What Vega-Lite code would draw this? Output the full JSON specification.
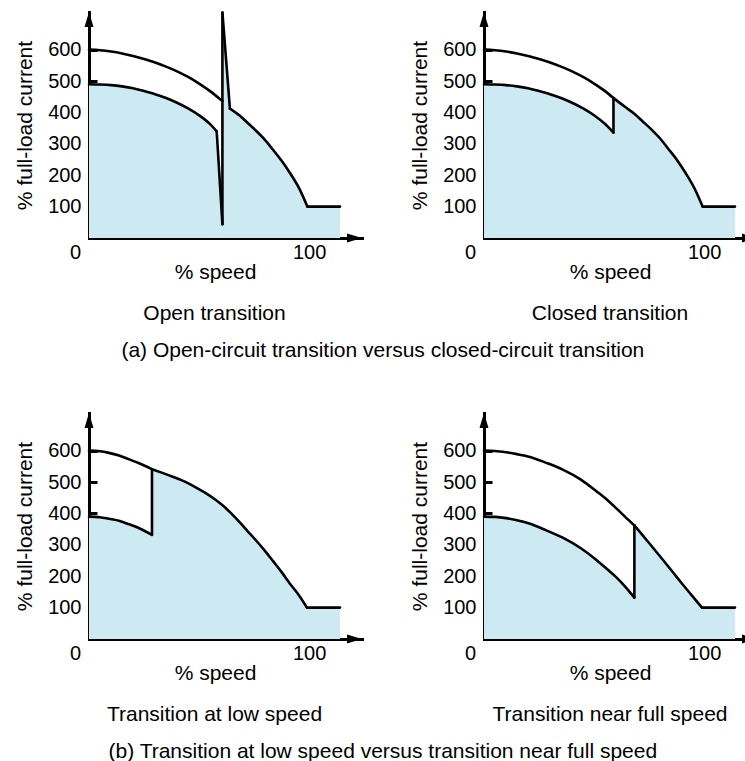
{
  "$schema": "https://vega.github.io/schema/vega-lite/v6.json",
  "background": "white",
  "padding": {"left": 14, "top": 7, "right": 0, "bottom": 0},
  "config": {
    "view": {"stroke": null},
    "font": "Liberation Sans",
    "axis": {
      "labelFont": "Liberation Sans", "labelFontSize": 20, "labelColor": "black",
      "titleFont": "Liberation Sans", "titleFontSize": 21, "titleFontWeight": "normal", "titleColor": "black",
      "domainColor": "black", "domainWidth": 3, "domainCap": "square",
      "tickColor": "black", "tickWidth": 3, "tickSize": -8,
      "grid": false, "labelFlush": false, "labelOverlap": false
    },
    "axisX": {"labelPadding": 12, "titlePadding": -1},
    "axisY": {"labelPadding": 16, "titlePadding": 12},
    "title": {"font": "Liberation Sans", "fontSize": 21, "fontWeight": "normal", "color": "black"}
  },
  "datasets": {
    "prof": [
      {"p": "A", "x": 0, "y": 490}, {"p": "A", "x": 5, "y": 489}, {"p": "A", "x": 10, "y": 487}, {"p": "A", "x": 15, "y": 483},
      {"p": "A", "x": 20, "y": 477}, {"p": "A", "x": 25, "y": 468}, {"p": "A", "x": 30, "y": 458}, {"p": "A", "x": 35, "y": 446},
      {"p": "A", "x": 40, "y": 431}, {"p": "A", "x": 45, "y": 413}, {"p": "A", "x": 50, "y": 391}, {"p": "A", "x": 55, "y": 363},
      {"p": "A", "x": 58, "y": 340}, {"p": "A", "x": 60.6, "y": 44}, {"p": "A", "x": 60.6, "y": 718}, {"p": "A", "x": 64, "y": 412},
      {"p": "A", "x": 68.4, "y": 390}, {"p": "A", "x": 72, "y": 367}, {"p": "A", "x": 76, "y": 341}, {"p": "A", "x": 80, "y": 312},
      {"p": "A", "x": 83.6, "y": 281}, {"p": "A", "x": 87.5, "y": 246}, {"p": "A", "x": 91.2, "y": 208}, {"p": "A", "x": 95.7, "y": 155},
      {"p": "A", "x": 99.2, "y": 100}, {"p": "A", "x": 114, "y": 100},
      {"p": "B", "x": 0, "y": 490}, {"p": "B", "x": 5, "y": 489}, {"p": "B", "x": 10, "y": 487}, {"p": "B", "x": 15, "y": 483},
      {"p": "B", "x": 20, "y": 477}, {"p": "B", "x": 25, "y": 468}, {"p": "B", "x": 30, "y": 458}, {"p": "B", "x": 35, "y": 446},
      {"p": "B", "x": 40, "y": 431}, {"p": "B", "x": 45, "y": 413}, {"p": "B", "x": 50, "y": 391}, {"p": "B", "x": 55, "y": 363},
      {"p": "B", "x": 58.8, "y": 336}, {"p": "B", "x": 58.8, "y": 446}, {"p": "B", "x": 64, "y": 418}, {"p": "B", "x": 68.4, "y": 395},
      {"p": "B", "x": 72, "y": 372}, {"p": "B", "x": 76, "y": 346}, {"p": "B", "x": 80, "y": 317}, {"p": "B", "x": 83.6, "y": 285},
      {"p": "B", "x": 87.5, "y": 250}, {"p": "B", "x": 91.2, "y": 211}, {"p": "B", "x": 95.7, "y": 157}, {"p": "B", "x": 99.3, "y": 100},
      {"p": "B", "x": 114, "y": 100},
      {"p": "C", "x": 0, "y": 390}, {"p": "C", "x": 5, "y": 388}, {"p": "C", "x": 9, "y": 383}, {"p": "C", "x": 14, "y": 376},
      {"p": "C", "x": 18, "y": 366}, {"p": "C", "x": 23, "y": 352}, {"p": "C", "x": 28.6, "y": 332}, {"p": "C", "x": 28.6, "y": 541},
      {"p": "C", "x": 33, "y": 530}, {"p": "C", "x": 38, "y": 517}, {"p": "C", "x": 42, "y": 506}, {"p": "C", "x": 45.6, "y": 494},
      {"p": "C", "x": 49, "y": 481}, {"p": "C", "x": 53.2, "y": 464}, {"p": "C", "x": 57, "y": 446}, {"p": "C", "x": 60.8, "y": 425},
      {"p": "C", "x": 64.6, "y": 400}, {"p": "C", "x": 68.4, "y": 372}, {"p": "C", "x": 72, "y": 344}, {"p": "C", "x": 76, "y": 313},
      {"p": "C", "x": 80, "y": 280}, {"p": "C", "x": 83.6, "y": 248}, {"p": "C", "x": 87.5, "y": 213}, {"p": "C", "x": 91.2, "y": 177},
      {"p": "C", "x": 95.5, "y": 138}, {"p": "C", "x": 99, "y": 100}, {"p": "C", "x": 114, "y": 100},
      {"p": "D", "x": 0, "y": 390}, {"p": "D", "x": 5, "y": 389}, {"p": "D", "x": 10, "y": 385}, {"p": "D", "x": 15, "y": 378},
      {"p": "D", "x": 20.9, "y": 367}, {"p": "D", "x": 28, "y": 347}, {"p": "D", "x": 36, "y": 322}, {"p": "D", "x": 44, "y": 289},
      {"p": "D", "x": 51.2, "y": 251}, {"p": "D", "x": 56, "y": 222}, {"p": "D", "x": 60, "y": 197}, {"p": "D", "x": 64, "y": 168},
      {"p": "D", "x": 68.3, "y": 132}, {"p": "D", "x": 68.3, "y": 362}, {"p": "D", "x": 72, "y": 331}, {"p": "D", "x": 76, "y": 297},
      {"p": "D", "x": 81.5, "y": 250}, {"p": "D", "x": 86, "y": 211}, {"p": "D", "x": 90, "y": 176}, {"p": "D", "x": 94, "y": 142},
      {"p": "D", "x": 99, "y": 100}, {"p": "D", "x": 114, "y": 100}
    ],
    "segs": [
      {"p": "A", "s": 1, "i": 0, "x": 0, "y": 490}, {"p": "A", "s": 1, "i": 1, "x": 5, "y": 489}, {"p": "A", "s": 1, "i": 2, "x": 10, "y": 487},
      {"p": "A", "s": 1, "i": 3, "x": 15, "y": 483}, {"p": "A", "s": 1, "i": 4, "x": 20, "y": 477}, {"p": "A", "s": 1, "i": 5, "x": 25, "y": 468},
      {"p": "A", "s": 1, "i": 6, "x": 30, "y": 458}, {"p": "A", "s": 1, "i": 7, "x": 35, "y": 446}, {"p": "A", "s": 1, "i": 8, "x": 40, "y": 431},
      {"p": "A", "s": 1, "i": 9, "x": 45, "y": 413}, {"p": "A", "s": 1, "i": 10, "x": 50, "y": 391}, {"p": "A", "s": 1, "i": 11, "x": 55, "y": 363},
      {"p": "A", "s": 1, "i": 12, "x": 58, "y": 340},
      {"p": "A", "s": 2, "i": 0, "x": 58, "y": 340}, {"p": "A", "s": 2, "i": 1, "x": 60.6, "y": 44},
      {"p": "A", "s": 3, "i": 0, "x": 60.6, "y": 44}, {"p": "A", "s": 3, "i": 1, "x": 60.6, "y": 718},
      {"p": "A", "s": 4, "i": 0, "x": 60.6, "y": 718}, {"p": "A", "s": 4, "i": 1, "x": 64, "y": 412},
      {"p": "A", "s": 5, "i": 0, "x": 64, "y": 412}, {"p": "A", "s": 5, "i": 1, "x": 68.4, "y": 390}, {"p": "A", "s": 5, "i": 2, "x": 72, "y": 367},
      {"p": "A", "s": 5, "i": 3, "x": 76, "y": 341}, {"p": "A", "s": 5, "i": 4, "x": 80, "y": 312}, {"p": "A", "s": 5, "i": 5, "x": 83.6, "y": 281},
      {"p": "A", "s": 5, "i": 6, "x": 87.5, "y": 246}, {"p": "A", "s": 5, "i": 7, "x": 91.2, "y": 208}, {"p": "A", "s": 5, "i": 8, "x": 95.7, "y": 155},
      {"p": "A", "s": 5, "i": 9, "x": 99.2, "y": 100},
      {"p": "A", "s": 6, "i": 0, "x": 99.2, "y": 100}, {"p": "A", "s": 6, "i": 1, "x": 114, "y": 100},

      {"p": "B", "s": 1, "i": 0, "x": 0, "y": 490}, {"p": "B", "s": 1, "i": 1, "x": 5, "y": 489}, {"p": "B", "s": 1, "i": 2, "x": 10, "y": 487},
      {"p": "B", "s": 1, "i": 3, "x": 15, "y": 483}, {"p": "B", "s": 1, "i": 4, "x": 20, "y": 477}, {"p": "B", "s": 1, "i": 5, "x": 25, "y": 468},
      {"p": "B", "s": 1, "i": 6, "x": 30, "y": 458}, {"p": "B", "s": 1, "i": 7, "x": 35, "y": 446}, {"p": "B", "s": 1, "i": 8, "x": 40, "y": 431},
      {"p": "B", "s": 1, "i": 9, "x": 45, "y": 413}, {"p": "B", "s": 1, "i": 10, "x": 50, "y": 391}, {"p": "B", "s": 1, "i": 11, "x": 55, "y": 363},
      {"p": "B", "s": 1, "i": 12, "x": 58.8, "y": 336},
      {"p": "B", "s": 2, "i": 0, "x": 58.8, "y": 336}, {"p": "B", "s": 2, "i": 1, "x": 58.8, "y": 446},
      {"p": "B", "s": 3, "i": 0, "x": 58.8, "y": 446}, {"p": "B", "s": 3, "i": 1, "x": 64, "y": 418}, {"p": "B", "s": 3, "i": 2, "x": 68.4, "y": 395},
      {"p": "B", "s": 3, "i": 3, "x": 72, "y": 372}, {"p": "B", "s": 3, "i": 4, "x": 76, "y": 346}, {"p": "B", "s": 3, "i": 5, "x": 80, "y": 317},
      {"p": "B", "s": 3, "i": 6, "x": 83.6, "y": 285}, {"p": "B", "s": 3, "i": 7, "x": 87.5, "y": 250}, {"p": "B", "s": 3, "i": 8, "x": 91.2, "y": 211},
      {"p": "B", "s": 3, "i": 9, "x": 95.7, "y": 157}, {"p": "B", "s": 3, "i": 10, "x": 99.3, "y": 100},
      {"p": "B", "s": 4, "i": 0, "x": 99.3, "y": 100}, {"p": "B", "s": 4, "i": 1, "x": 114, "y": 100},

      {"p": "C", "s": 1, "i": 0, "x": 0, "y": 390}, {"p": "C", "s": 1, "i": 1, "x": 5, "y": 388}, {"p": "C", "s": 1, "i": 2, "x": 9, "y": 383},
      {"p": "C", "s": 1, "i": 3, "x": 14, "y": 376}, {"p": "C", "s": 1, "i": 4, "x": 18, "y": 366}, {"p": "C", "s": 1, "i": 5, "x": 23, "y": 352},
      {"p": "C", "s": 1, "i": 6, "x": 28.6, "y": 332},
      {"p": "C", "s": 2, "i": 0, "x": 28.6, "y": 332}, {"p": "C", "s": 2, "i": 1, "x": 28.6, "y": 541},
      {"p": "C", "s": 3, "i": 0, "x": 28.6, "y": 541}, {"p": "C", "s": 3, "i": 1, "x": 33, "y": 530}, {"p": "C", "s": 3, "i": 2, "x": 38, "y": 517},
      {"p": "C", "s": 3, "i": 3, "x": 42, "y": 506}, {"p": "C", "s": 3, "i": 4, "x": 45.6, "y": 494}, {"p": "C", "s": 3, "i": 5, "x": 49, "y": 481},
      {"p": "C", "s": 3, "i": 6, "x": 53.2, "y": 464}, {"p": "C", "s": 3, "i": 7, "x": 57, "y": 446}, {"p": "C", "s": 3, "i": 8, "x": 60.8, "y": 425},
      {"p": "C", "s": 3, "i": 9, "x": 64.6, "y": 400}, {"p": "C", "s": 3, "i": 10, "x": 68.4, "y": 372}, {"p": "C", "s": 3, "i": 11, "x": 72, "y": 344},
      {"p": "C", "s": 3, "i": 12, "x": 76, "y": 313}, {"p": "C", "s": 3, "i": 13, "x": 80, "y": 280}, {"p": "C", "s": 3, "i": 14, "x": 83.6, "y": 248},
      {"p": "C", "s": 3, "i": 15, "x": 87.5, "y": 213}, {"p": "C", "s": 3, "i": 16, "x": 91.2, "y": 177}, {"p": "C", "s": 3, "i": 17, "x": 95.5, "y": 138},
      {"p": "C", "s": 3, "i": 18, "x": 99, "y": 100},
      {"p": "C", "s": 4, "i": 0, "x": 99, "y": 100}, {"p": "C", "s": 4, "i": 1, "x": 114, "y": 100},

      {"p": "D", "s": 1, "i": 0, "x": 0, "y": 390}, {"p": "D", "s": 1, "i": 1, "x": 5, "y": 389}, {"p": "D", "s": 1, "i": 2, "x": 10, "y": 385},
      {"p": "D", "s": 1, "i": 3, "x": 15, "y": 378}, {"p": "D", "s": 1, "i": 4, "x": 20.9, "y": 367}, {"p": "D", "s": 1, "i": 5, "x": 28, "y": 347},
      {"p": "D", "s": 1, "i": 6, "x": 36, "y": 322}, {"p": "D", "s": 1, "i": 7, "x": 44, "y": 289}, {"p": "D", "s": 1, "i": 8, "x": 51.2, "y": 251},
      {"p": "D", "s": 1, "i": 9, "x": 56, "y": 222}, {"p": "D", "s": 1, "i": 10, "x": 60, "y": 197}, {"p": "D", "s": 1, "i": 11, "x": 64, "y": 168},
      {"p": "D", "s": 1, "i": 12, "x": 68.3, "y": 132},
      {"p": "D", "s": 2, "i": 0, "x": 68.3, "y": 132}, {"p": "D", "s": 2, "i": 1, "x": 68.3, "y": 362},
      {"p": "D", "s": 3, "i": 0, "x": 68.3, "y": 362}, {"p": "D", "s": 3, "i": 1, "x": 72, "y": 331}, {"p": "D", "s": 3, "i": 2, "x": 76, "y": 297},
      {"p": "D", "s": 3, "i": 3, "x": 81.5, "y": 250}, {"p": "D", "s": 3, "i": 4, "x": 86, "y": 211}, {"p": "D", "s": 3, "i": 5, "x": 90, "y": 176},
      {"p": "D", "s": 3, "i": 6, "x": 94, "y": 142}, {"p": "D", "s": 3, "i": 7, "x": 99, "y": 100},
      {"p": "D", "s": 4, "i": 0, "x": 99, "y": 100}, {"p": "D", "s": 4, "i": 1, "x": 114, "y": 100}
    ],
    "upper": [
      {"p": "A", "i": 0, "x": 0, "y": 600}, {"p": "A", "i": 1, "x": 5, "y": 598}, {"p": "A", "i": 2, "x": 10, "y": 594},
      {"p": "A", "i": 3, "x": 15, "y": 588}, {"p": "A", "i": 4, "x": 20, "y": 580}, {"p": "A", "i": 5, "x": 25, "y": 570},
      {"p": "A", "i": 6, "x": 30, "y": 559}, {"p": "A", "i": 7, "x": 35, "y": 546}, {"p": "A", "i": 8, "x": 40, "y": 531},
      {"p": "A", "i": 9, "x": 45, "y": 513}, {"p": "A", "i": 10, "x": 50, "y": 492}, {"p": "A", "i": 11, "x": 55, "y": 468},
      {"p": "A", "i": 12, "x": 60.6, "y": 436},
      {"p": "B", "i": 0, "x": 0, "y": 600}, {"p": "B", "i": 1, "x": 5, "y": 598}, {"p": "B", "i": 2, "x": 10, "y": 594},
      {"p": "B", "i": 3, "x": 15, "y": 588}, {"p": "B", "i": 4, "x": 20, "y": 580}, {"p": "B", "i": 5, "x": 25, "y": 570},
      {"p": "B", "i": 6, "x": 30, "y": 559}, {"p": "B", "i": 7, "x": 35, "y": 546}, {"p": "B", "i": 8, "x": 40, "y": 531},
      {"p": "B", "i": 9, "x": 45, "y": 513}, {"p": "B", "i": 10, "x": 50, "y": 492}, {"p": "B", "i": 11, "x": 55, "y": 468},
      {"p": "B", "i": 12, "x": 58.8, "y": 446},
      {"p": "C", "i": 0, "x": 0, "y": 600}, {"p": "C", "i": 1, "x": 5, "y": 598}, {"p": "C", "i": 2, "x": 9, "y": 593},
      {"p": "C", "i": 3, "x": 14, "y": 584}, {"p": "C", "i": 4, "x": 18, "y": 573}, {"p": "C", "i": 5, "x": 23, "y": 559},
      {"p": "C", "i": 6, "x": 28.6, "y": 541},
      {"p": "D", "i": 0, "x": 0, "y": 600}, {"p": "D", "i": 1, "x": 5, "y": 599}, {"p": "D", "i": 2, "x": 10, "y": 595},
      {"p": "D", "i": 3, "x": 15, "y": 589}, {"p": "D", "i": 4, "x": 20.9, "y": 580}, {"p": "D", "i": 5, "x": 28, "y": 562},
      {"p": "D", "i": 6, "x": 36, "y": 539}, {"p": "D", "i": 7, "x": 44, "y": 508}, {"p": "D", "i": 8, "x": 51.2, "y": 470},
      {"p": "D", "i": 9, "x": 56, "y": 443}, {"p": "D", "i": 10, "x": 60, "y": 417}, {"p": "D", "i": 11, "x": 64, "y": 390},
      {"p": "D", "i": 12, "x": 68.3, "y": 362}
    ],
    "arrows": [
      {"p": "A", "d": "up", "x": 0, "y": 672}, {"p": "A", "d": "right", "x": 117.2, "y": 0},
      {"p": "B", "d": "up", "x": 0, "y": 672}, {"p": "B", "d": "cut", "x": 117.2, "y": 0},
      {"p": "C", "d": "up", "x": 0, "y": 672}, {"p": "C", "d": "right", "x": 117.2, "y": 0},
      {"p": "D", "d": "up", "x": 0, "y": 672}, {"p": "D", "d": "cut", "x": 117.2, "y": 0}
    ]
  },
  "vconcat": [
    {
      "title": {"text": "(a) Open-circuit transition versus closed-circuit transition", "orient": "bottom", "anchor": "middle", "offset": 16, "dx": 3},
      "spacing": 46,
      "hconcat": [
        {
          "width": 273, "height": 226,
          "title": {"text": "Open transition", "orient": "bottom", "dx": -11, "offset": 21},
          "layer": [
            {"data": {"name": "prof"}, "transform": [{"filter": "datum.p == 'A'"}],
             "mark": {"type": "area", "color": "#cde9f1", "orient": "vertical"},
             "encoding": {
               "x": {"field": "x", "type": "quantitative", "scale": {"domain": [0, 124], "nice": false, "zero": false},
                     "axis": {"values": [0, 100], "title": "% speed", "titleX": 126, "labelOffset": {"condition": {"test": "datum.value == 0", "value": -14}, "value": 0}}},
               "y": {"field": "y", "type": "quantitative", "stack": null, "scale": {"domain": [0, 720], "nice": false},
                     "axis": {"values": [100, 200, 300, 400, 500, 600], "title": "% full-load current"}}}},
            {"data": {"name": "segs"}, "transform": [{"filter": "datum.p == 'A'"}],
             "mark": {"type": "line", "color": "black", "strokeWidth": 2.6, "interpolate": "monotone", "strokeCap": "round"},
             "encoding": {"x": {"field": "x", "type": "quantitative"}, "y": {"field": "y", "type": "quantitative"},
                          "detail": {"field": "s", "type": "nominal"}, "order": {"field": "i", "type": "quantitative"}}},
            {"data": {"name": "upper"}, "transform": [{"filter": "datum.p == 'A'"}],
             "mark": {"type": "line", "color": "black", "strokeWidth": 2.6, "interpolate": "monotone", "strokeCap": "round"},
             "encoding": {"x": {"field": "x", "type": "quantitative"}, "y": {"field": "y", "type": "quantitative"}, "order": {"field": "i", "type": "quantitative"}}},
            {"data": {"name": "arrows"}, "transform": [{"filter": "datum.p == 'A'"}],
             "mark": {"type": "point", "filled": true, "color": "black", "opacity": 1, "size": 900},
             "encoding": {"x": {"field": "x", "type": "quantitative"}, "y": {"field": "y", "type": "quantitative"},
                          "shape": {"field": "d", "type": "nominal", "legend": null, "scale": {"domain": ["up", "right", "cut"], "range": ["M0,-1L0.3,0L-0.3,0Z", "M1,0L0,0.3L0,-0.3Z", "M0,-0.3L0.2,-0.24L0.2,0.24L0,0.3Z"]}}}}
          ]
        },
        {
          "width": 261, "height": 226,
          "title": {"text": "Closed transition", "orient": "bottom", "dx": -4.5, "offset": 21},
          "layer": [
            {"data": {"name": "prof"}, "transform": [{"filter": "datum.p == 'B'"}],
             "mark": {"type": "area", "color": "#cde9f1", "orient": "vertical"},
             "encoding": {
               "x": {"field": "x", "type": "quantitative", "scale": {"domain": [0, 118.55], "nice": false, "zero": false},
                     "axis": {"values": [0, 100], "title": "% speed", "titleX": 126, "labelOffset": {"condition": {"test": "datum.value == 0", "value": -14}, "value": 0}}},
               "y": {"field": "y", "type": "quantitative", "stack": null, "scale": {"domain": [0, 720], "nice": false},
                     "axis": {"values": [100, 200, 300, 400, 500, 600], "title": "% full-load current"}}}},
            {"data": {"name": "segs"}, "transform": [{"filter": "datum.p == 'B'"}],
             "mark": {"type": "line", "color": "black", "strokeWidth": 2.6, "interpolate": "monotone", "strokeCap": "round"},
             "encoding": {"x": {"field": "x", "type": "quantitative"}, "y": {"field": "y", "type": "quantitative"},
                          "detail": {"field": "s", "type": "nominal"}, "order": {"field": "i", "type": "quantitative"}}},
            {"data": {"name": "upper"}, "transform": [{"filter": "datum.p == 'B'"}],
             "mark": {"type": "line", "color": "black", "strokeWidth": 2.6, "interpolate": "monotone", "strokeCap": "round"},
             "encoding": {"x": {"field": "x", "type": "quantitative"}, "y": {"field": "y", "type": "quantitative"}, "order": {"field": "i", "type": "quantitative"}}},
            {"data": {"name": "arrows"}, "transform": [{"filter": "datum.p == 'B'"}],
             "mark": {"type": "point", "filled": true, "color": "black", "opacity": 1, "size": 900},
             "encoding": {"x": {"field": "x", "type": "quantitative"}, "y": {"field": "y", "type": "quantitative"},
                          "shape": {"field": "d", "type": "nominal", "legend": null, "scale": {"domain": ["up", "right", "cut"], "range": ["M0,-1L0.3,0L-0.3,0Z", "M1,0L0,0.3L0,-0.3Z", "M0,-0.3L0.2,-0.24L0.2,0.24L0,0.3Z"]}}}}
          ]
        }
      ]
    },
    {
      "title": {"text": "(b) Transition at low speed versus transition near full speed", "orient": "bottom", "anchor": "middle", "offset": 16, "dx": 3},
      "spacing": 46,
      "hconcat": [
        {
          "width": 273, "height": 226,
          "title": {"text": "Transition at low speed", "orient": "bottom", "dx": -11, "offset": 21},
          "layer": [
            {"data": {"name": "prof"}, "transform": [{"filter": "datum.p == 'C'"}],
             "mark": {"type": "area", "color": "#cde9f1", "orient": "vertical"},
             "encoding": {
               "x": {"field": "x", "type": "quantitative", "scale": {"domain": [0, 124], "nice": false, "zero": false},
                     "axis": {"values": [0, 100], "title": "% speed", "titleX": 126, "labelOffset": {"condition": {"test": "datum.value == 0", "value": -14}, "value": 0}}},
               "y": {"field": "y", "type": "quantitative", "stack": null, "scale": {"domain": [0, 720], "nice": false},
                     "axis": {"values": [100, 200, 300, 400, 500, 600], "title": "% full-load current"}}}},
            {"data": {"name": "segs"}, "transform": [{"filter": "datum.p == 'C'"}],
             "mark": {"type": "line", "color": "black", "strokeWidth": 2.6, "interpolate": "monotone", "strokeCap": "round"},
             "encoding": {"x": {"field": "x", "type": "quantitative"}, "y": {"field": "y", "type": "quantitative"},
                          "detail": {"field": "s", "type": "nominal"}, "order": {"field": "i", "type": "quantitative"}}},
            {"data": {"name": "upper"}, "transform": [{"filter": "datum.p == 'C'"}],
             "mark": {"type": "line", "color": "black", "strokeWidth": 2.6, "interpolate": "monotone", "strokeCap": "round"},
             "encoding": {"x": {"field": "x", "type": "quantitative"}, "y": {"field": "y", "type": "quantitative"}, "order": {"field": "i", "type": "quantitative"}}},
            {"data": {"name": "arrows"}, "transform": [{"filter": "datum.p == 'C'"}],
             "mark": {"type": "point", "filled": true, "color": "black", "opacity": 1, "size": 900},
             "encoding": {"x": {"field": "x", "type": "quantitative"}, "y": {"field": "y", "type": "quantitative"},
                          "shape": {"field": "d", "type": "nominal", "legend": null, "scale": {"domain": ["up", "right", "cut"], "range": ["M0,-1L0.3,0L-0.3,0Z", "M1,0L0,0.3L0,-0.3Z", "M0,-0.3L0.2,-0.24L0.2,0.24L0,0.3Z"]}}}}
          ]
        },
        {
          "width": 261, "height": 226,
          "title": {"text": "Transition near full speed", "orient": "bottom", "dx": -4.5, "offset": 21},
          "layer": [
            {"data": {"name": "prof"}, "transform": [{"filter": "datum.p == 'D'"}],
             "mark": {"type": "area", "color": "#cde9f1", "orient": "vertical"},
             "encoding": {
               "x": {"field": "x", "type": "quantitative", "scale": {"domain": [0, 118.55], "nice": false, "zero": false},
                     "axis": {"values": [0, 100], "title": "% speed", "titleX": 126, "labelOffset": {"condition": {"test": "datum.value == 0", "value": -14}, "value": 0}}},
               "y": {"field": "y", "type": "quantitative", "stack": null, "scale": {"domain": [0, 720], "nice": false},
                     "axis": {"values": [100, 200, 300, 400, 500, 600], "title": "% full-load current"}}}},
            {"data": {"name": "segs"}, "transform": [{"filter": "datum.p == 'D'"}],
             "mark": {"type": "line", "color": "black", "strokeWidth": 2.6, "interpolate": "monotone", "strokeCap": "round"},
             "encoding": {"x": {"field": "x", "type": "quantitative"}, "y": {"field": "y", "type": "quantitative"},
                          "detail": {"field": "s", "type": "nominal"}, "order": {"field": "i", "type": "quantitative"}}},
            {"data": {"name": "upper"}, "transform": [{"filter": "datum.p == 'D'"}],
             "mark": {"type": "line", "color": "black", "strokeWidth": 2.6, "interpolate": "monotone", "strokeCap": "round"},
             "encoding": {"x": {"field": "x", "type": "quantitative"}, "y": {"field": "y", "type": "quantitative"}, "order": {"field": "i", "type": "quantitative"}}},
            {"data": {"name": "arrows"}, "transform": [{"filter": "datum.p == 'D'"}],
             "mark": {"type": "point", "filled": true, "color": "black", "opacity": 1, "size": 900},
             "encoding": {"x": {"field": "x", "type": "quantitative"}, "y": {"field": "y", "type": "quantitative"},
                          "shape": {"field": "d", "type": "nominal", "legend": null, "scale": {"domain": ["up", "right", "cut"], "range": ["M0,-1L0.3,0L-0.3,0Z", "M1,0L0,0.3L0,-0.3Z", "M0,-0.3L0.2,-0.24L0.2,0.24L0,0.3Z"]}}}}
          ]
        }
      ]
    }
  ],
  "spacing": 52
}
